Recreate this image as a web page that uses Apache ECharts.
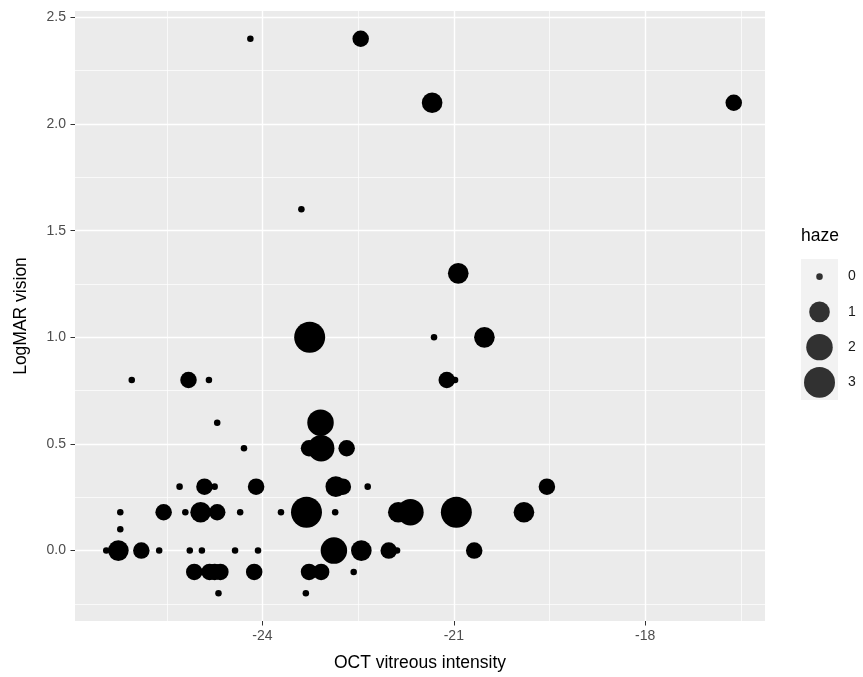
<!DOCTYPE html>
<html>
<head>
<meta charset="utf-8">
<title>OCT vitreous intensity vs LogMAR vision</title>
<script src="https://cdn.jsdelivr.net/npm/echarts@6/dist/echarts.min.js"></script>
<style>
  html, body { margin: 0; padding: 0; background: #ffffff; }
  #chart { width: 863px; height: 677px; }
</style>
</head>
<body>
<div id="chart"></div>
<script>
// Per-eye measurements
const intensity = [
  -24.19, -22.46,
  -21.34, -16.61,
  -23.39,
  -20.93,
  -23.26, -21.31, -20.52,
  -26.05, -25.16, -24.84, -21.11, -20.98,
  -24.71, -23.09,
  -24.29, -23.27, -23.08, -22.68,
  -25.30, -24.91, -24.75, -24.10, -22.85, -22.74, -22.35, -19.54,
  -26.23, -25.55, -25.21, -24.97, -24.71, -24.35, -23.71, -23.31, -22.86, -21.87, -21.68, -20.96, -19.90,
  -26.23,
  -26.45, -26.26, -25.90, -25.62, -25.14, -24.95, -24.43, -24.07, -22.88, -22.45, -22.02, -21.89, -20.68,
  -25.07, -24.83, -24.75, -24.66, -24.13, -23.27, -23.08, -22.57,
  -24.69, -23.32
];
const logmar = [
  2.4, 2.4,
  2.1, 2.1,
  1.6,
  1.3,
  1.0, 1.0, 1.0,
  0.8, 0.8, 0.8, 0.8, 0.8,
  0.6, 0.6,
  0.48, 0.48, 0.48, 0.48,
  0.3, 0.3, 0.3, 0.3, 0.3, 0.3, 0.3, 0.3,
  0.18, 0.18, 0.18, 0.18, 0.18, 0.18, 0.18, 0.18, 0.18, 0.18, 0.18, 0.18, 0.18,
  0.1,
  0, 0, 0, 0, 0, 0, 0, 0, 0, 0, 0, 0, 0,
  -0.1, -0.1, -0.1, -0.1, -0.1, -0.1, -0.1, -0.1,
  -0.2, -0.2
];
const haze = [
  0, 0.5,
  1, 0.5,
  0,
  1,
  3, 0, 1,
  0, 0.5, 0, 0.5, 0,
  0, 2,
  0, 0.5, 2, 0.5,
  0, 0.5, 0, 0.5, 1, 0.5, 0, 0.5,
  0, 0.5, 0, 1, 0.5, 0, 0, 3, 0, 1, 2, 3, 1,
  0,
  0, 1, 0.5, 0, 0, 0, 0, 0, 2, 1, 0.5, 0, 0.5,
  0.5, 0.5, 0.5, 0.5, 0.5, 0.5, 0.5, 0,
  0, 0
];

// Axis breaks and legend breaks
const xMajor = [-24, -21, -18];
const xMinor = [-25.5, -22.5, -19.5, -16.5];
const yMajor = [0, 0.5, 1.0, 1.5, 2.0, 2.5];
const yMinor = [-0.25, 0.25, 0.75, 1.25, 1.75, 2.25];
const hazeBreaks = [0, 1, 2, 3];

// Panel ranges: data range padded by 5% on each side
const X_MIN = -26.94, X_MAX = -16.12;
const Y_MIN = -0.33, Y_MAX = 2.53;

// Area-proportional size scale (haze 0..3 -> point size 1..6)
const HAZE_MAX = 3;
function pointDiameter(h) {
  const s = 1 + 5 * Math.sqrt(h / HAZE_MAX);
  return 1.72 * (2.845 * s + 0.945);
}

const FONT = '"Liberation Sans", Arial, Helvetica, sans-serif';
const TICK_FONT = 14;
const TITLE_FONT = 17.5;
const points = intensity.map((x, i) => [x, logmar[i], haze[i]]);

const chart = echarts.init(document.getElementById('chart'), null, { renderer: 'canvas' });

chart.setOption({
  animation: false,
  backgroundColor: '#ffffff',
  textStyle: { fontFamily: FONT },
  title: {
    text: 'haze',
    left: 801,
    top: 227,
    padding: 0,
    textStyle: { fontFamily: FONT, fontSize: TITLE_FONT, fontWeight: 'normal', color: '#000000' }
  },
  grid: [
    { left: 75, top: 11, width: 690, height: 610, show: true, backgroundColor: '#EBEBEB', borderWidth: 0, containLabel: false },
    { left: 801, top: 259, width: 37, height: 141, show: true, backgroundColor: '#F2F2F2', borderWidth: 0, containLabel: false }
  ],
  xAxis: [
    {
      type: 'value', gridIndex: 0, min: X_MIN, max: X_MAX, position: 'bottom',
      name: 'OCT vitreous intensity', nameLocation: 'middle', nameGap: 33,
      nameTextStyle: { fontFamily: FONT, fontSize: TITLE_FONT, color: '#000000' },
      axisLine: { show: false, onZero: false },
      axisTick: { show: true, length: 4.5, customValues: xMajor, lineStyle: { color: '#333333', width: 1 } },
      axisLabel: { customValues: xMajor, color: '#4D4D4D', fontSize: TICK_FONT, margin: 8, fontFamily: FONT,
                   formatter: v => String(v) },
      splitLine: { show: true, lineStyle: { color: '#FFFFFF', width: 1.4 } },
      z: 2
    },
    {
      type: 'value', gridIndex: 0, min: X_MIN, max: X_MAX, position: 'bottom',
      axisLine: { show: false, onZero: false },
      axisTick: { show: false, customValues: xMinor },
      axisLabel: { show: false, customValues: xMinor },
      splitLine: { show: true, lineStyle: { color: '#FFFFFF', width: 0.7 } },
      z: 1
    },
    { type: 'value', gridIndex: 1, min: 0, max: 1, show: false }
  ],
  yAxis: [
    {
      type: 'value', gridIndex: 0, min: Y_MIN, max: Y_MAX, position: 'left',
      name: 'LogMAR vision', nameLocation: 'middle', nameGap: 45, nameRotate: 90,
      nameTextStyle: { fontFamily: FONT, fontSize: TITLE_FONT, color: '#000000' },
      axisLine: { show: false, onZero: false },
      axisTick: { show: true, length: 4.5, customValues: yMajor, lineStyle: { color: '#333333', width: 1 } },
      axisLabel: { customValues: yMajor, color: '#4D4D4D', fontSize: TICK_FONT, margin: 9, fontFamily: FONT,
                   formatter: v => Number(v).toFixed(1) },
      splitLine: { show: true, lineStyle: { color: '#FFFFFF', width: 1.4 } },
      z: 2
    },
    {
      type: 'value', gridIndex: 0, min: Y_MIN, max: Y_MAX, position: 'left',
      axisLine: { show: false, onZero: false },
      axisTick: { show: false, customValues: yMinor },
      axisLabel: { show: false, customValues: yMinor },
      splitLine: { show: true, lineStyle: { color: '#FFFFFF', width: 0.7 } },
      z: 1
    },
    {
      type: 'category', gridIndex: 1, inverse: true, position: 'right',
      data: hazeBreaks.map(String),
      axisLine: { show: false, onZero: false },
      axisTick: { show: false },
      axisLabel: { color: '#1A1A1A', fontSize: TICK_FONT, margin: 10, fontFamily: FONT },
      splitLine: { show: false }
    }
  ],
  series: [
    {
      name: 'haze',
      type: 'scatter',
      xAxisIndex: 0,
      yAxisIndex: 0,
      data: points,
      symbol: 'circle',
      symbolSize: v => pointDiameter(v[2]),
      itemStyle: { color: '#000000', opacity: 1 },
      emphasis: { disabled: true },
      silent: true,
      z: 5
    },
    {
      name: 'haze key',
      type: 'scatter',
      xAxisIndex: 2,
      yAxisIndex: 2,
      data: hazeBreaks.map((b, i) => [0.5, i, b]),
      symbol: 'circle',
      symbolSize: v => pointDiameter(v[2]),
      itemStyle: { color: '#000000' },
      emphasis: { disabled: true },
      silent: true,
      z: 5
    }
  ]
});
</script>
</body>
</html>
